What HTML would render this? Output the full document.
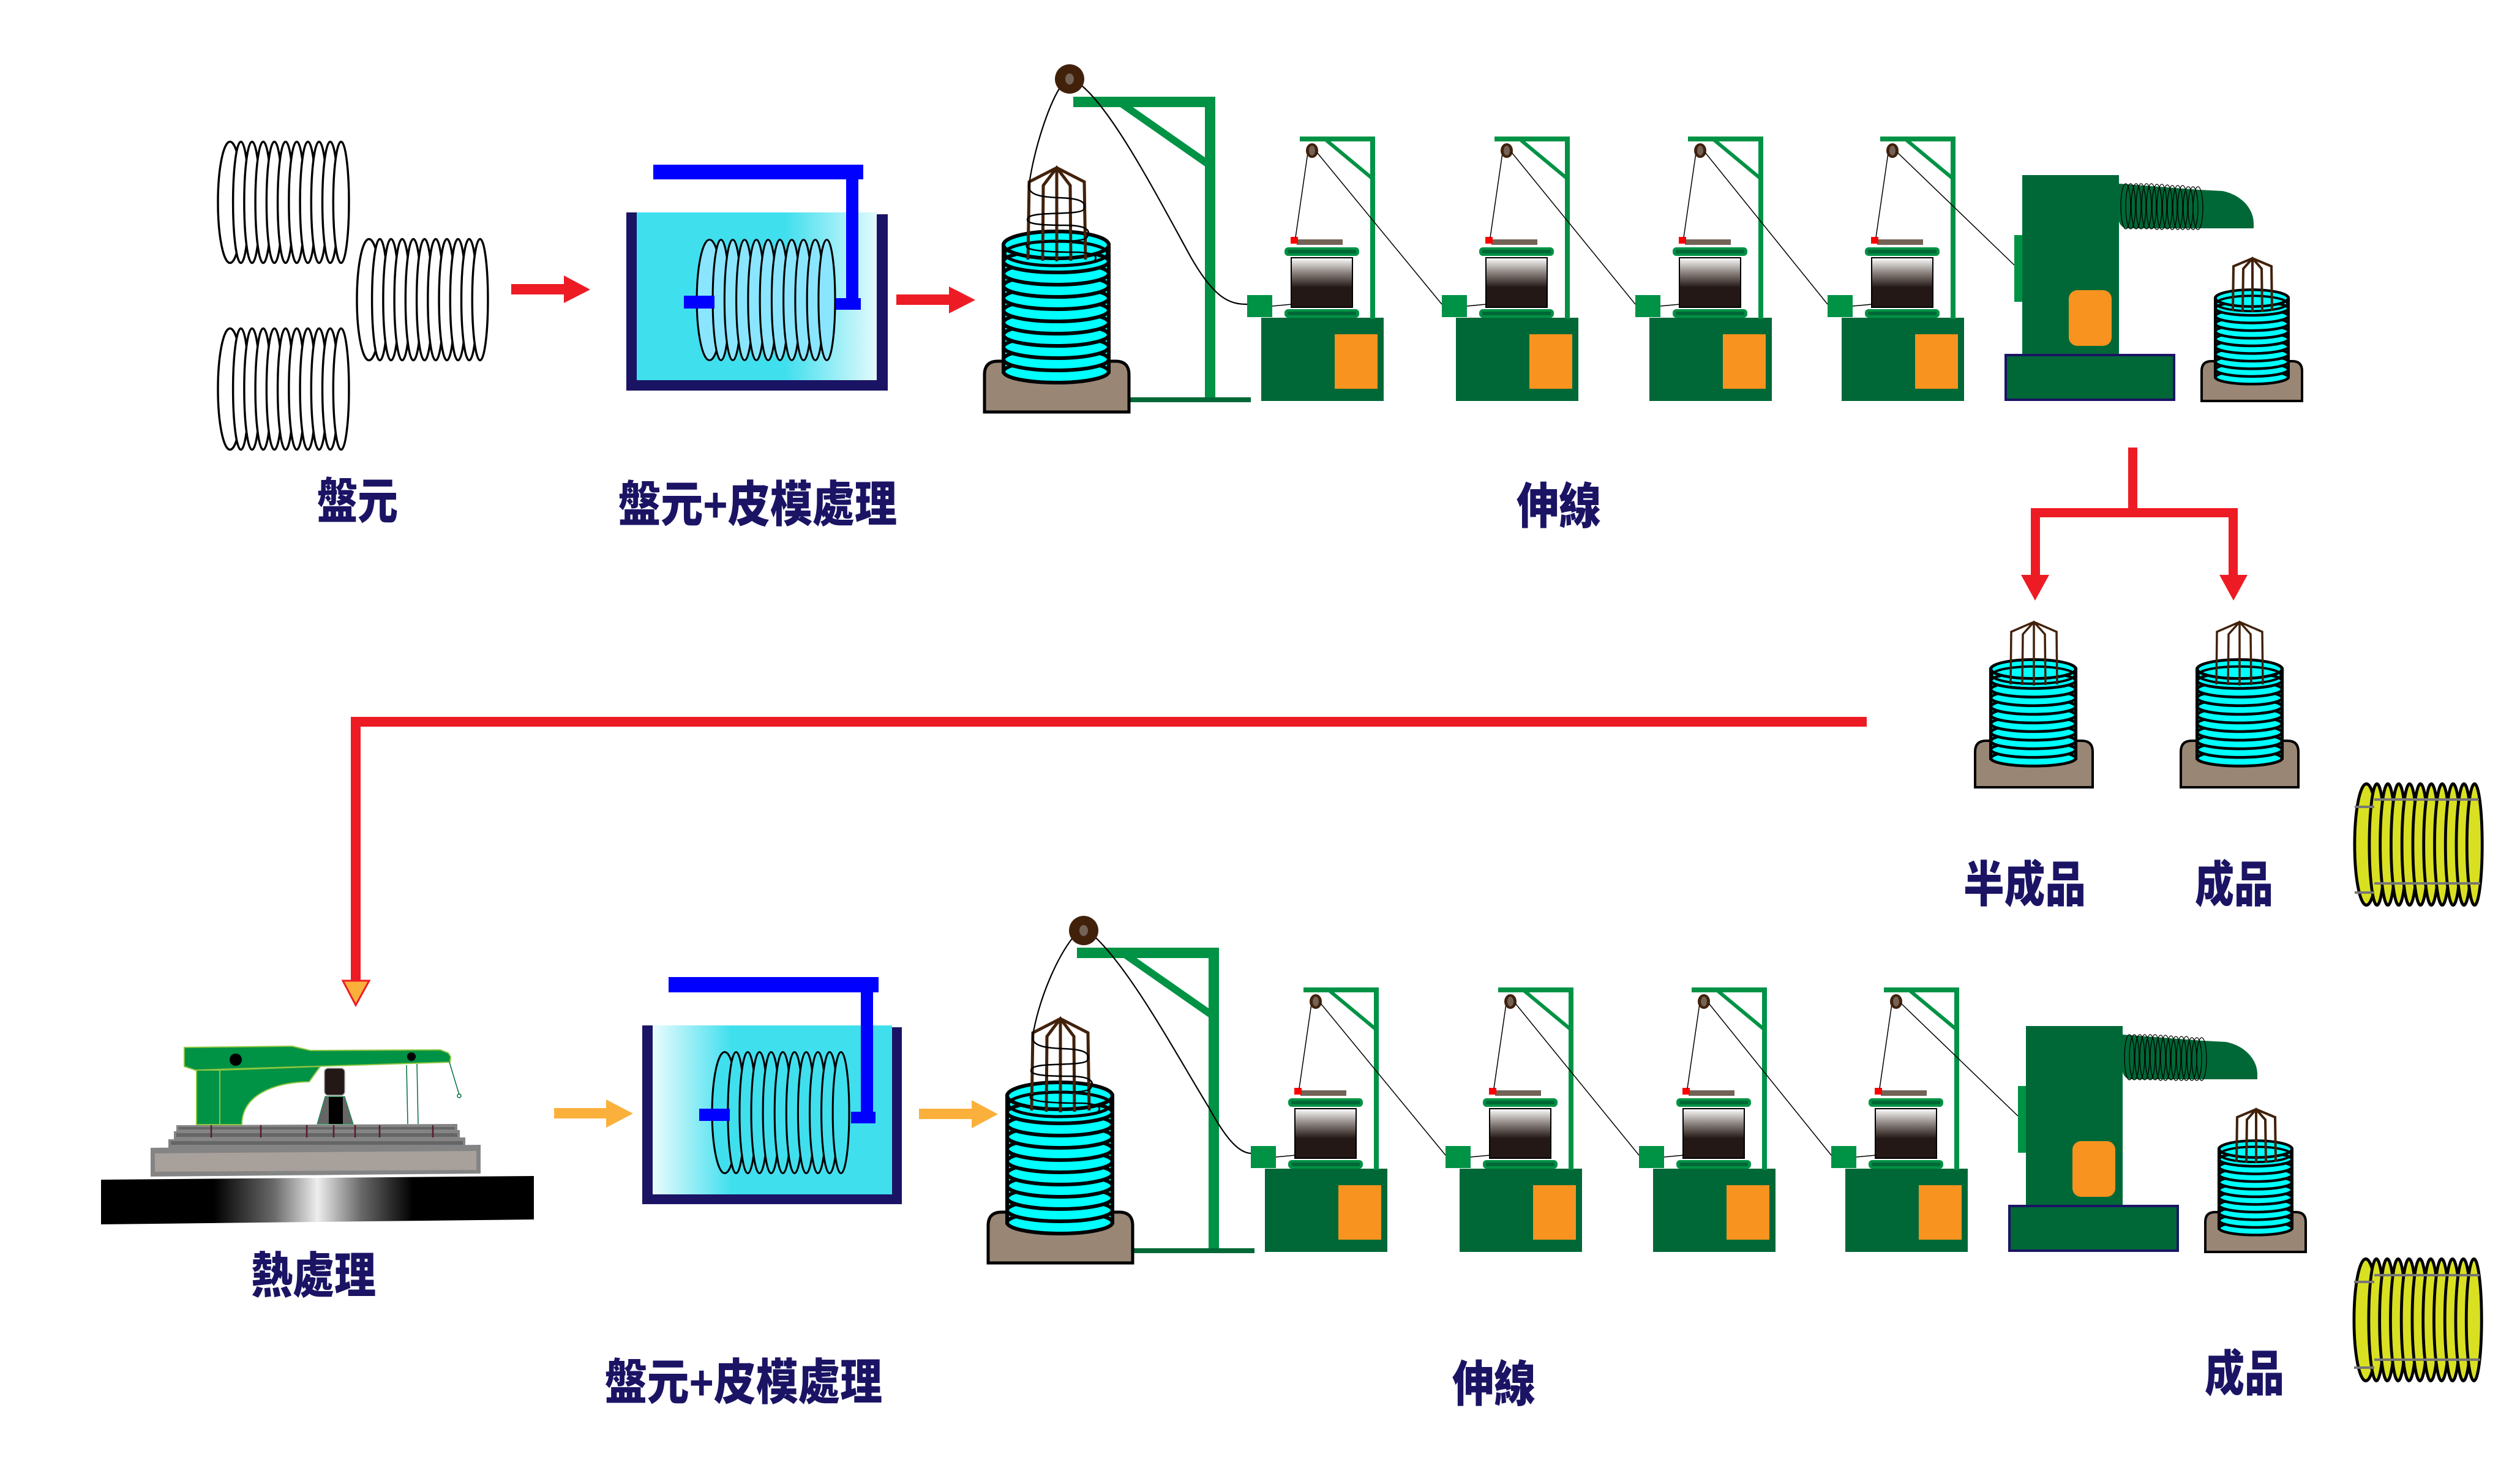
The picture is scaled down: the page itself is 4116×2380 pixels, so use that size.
<!DOCTYPE html>
<html><head><meta charset="utf-8"><style>
html,body{margin:0;padding:0;background:#fff;}
.wrap{position:relative;width:4116px;height:2380px;overflow:hidden;background:#fff;}
.wrap svg{position:absolute;left:0;top:0;display:block;}
</style></head><body>
<div class="wrap">
<svg xmlns="http://www.w3.org/2000/svg" width="4116" height="2380" viewBox="0 0 4116 2380">
<linearGradient id="drum" x1="0" y1="0" x2="0" y2="1"><stop offset="0" stop-color="#ffffff"/><stop offset="0.3" stop-color="#8c8480"/><stop offset="0.6" stop-color="#231815"/><stop offset="1" stop-color="#231815"/></linearGradient>
<linearGradient id="wu" x1="0" y1="0" x2="1" y2="0"><stop offset="0" stop-color="#40dfee"/><stop offset="0.62" stop-color="#40dfee"/><stop offset="1" stop-color="#e2fafd"/></linearGradient>
<linearGradient id="wl" x1="0" y1="0" x2="1" y2="0"><stop offset="0" stop-color="#eafcfe"/><stop offset="0.33" stop-color="#40dfee"/><stop offset="1" stop-color="#40dfee"/></linearGradient>
<linearGradient id="slab" x1="0" y1="0" x2="1" y2="0"><stop offset="0" stop-color="#000000"/><stop offset="0.26" stop-color="#000000"/><stop offset="0.4" stop-color="#6a6a6a"/><stop offset="0.5" stop-color="#eeeeee"/><stop offset="0.6" stop-color="#6a6a6a"/><stop offset="0.72" stop-color="#000000"/><stop offset="1" stop-color="#000000"/></linearGradient>

<rect x="0" y="0" width="4116" height="2380" fill="#ffffff"/>

<!-- ===== UPPER DRAWING LINE ===== -->
<g>
<rect x="1753" y="158" width="232" height="17" fill="#009245"/>
<rect x="1968" y="158" width="17" height="492" fill="#009245"/>
<line x1="1830" y1="168" x2="1976" y2="270" stroke="#009245" stroke-width="12"/>
<rect x="1844" y="649" width="199" height="8" fill="#006837"/>
<path d="M1608,673 V612 Q1608,590 1630,590 H1822 Q1844,590 1844,612 V673 Z" fill="#998675" stroke="#000" stroke-width="5"/>
<g transform="translate(1637,376)" fill="#00ffff" stroke="#000" stroke-width="6">
<rect x="2" y="24" width="172" height="207"/>
<ellipse cx="88" cy="231" rx="86" ry="18"/><ellipse cx="88" cy="211" rx="86" ry="18"/><ellipse cx="88" cy="191" rx="86" ry="18"/><ellipse cx="88" cy="171" rx="86" ry="18"/><ellipse cx="88" cy="151" rx="86" ry="18"/><ellipse cx="88" cy="131" rx="86" ry="18"/><ellipse cx="88" cy="111" rx="86" ry="18"/><ellipse cx="88" cy="91" rx="86" ry="18"/><ellipse cx="88" cy="71" rx="86" ry="18"/><ellipse cx="88" cy="51" rx="86" ry="18"/>
<ellipse cx="88" cy="24" rx="86" ry="22"/>
<ellipse cx="88" cy="38" rx="84" ry="20" fill="none" stroke-width="5"/>
</g>
<path transform="translate(1726,274)" fill="none" stroke="#42210b" stroke-width="5" d="M-47,150 L-45,23 L0,0 L45,23 L47,150 M-23,152 L-22,29 L0,0 L22,29 L23,152 M0,0 V153"/>
<path d="M1681,300 C1676,318 1700,322 1730,323 C1765,324 1775,330 1770,342 C1765,352 1690,345 1680,355 C1670,366 1700,368 1740,368 C1778,368 1782,378 1775,388 C1768,398 1690,392 1678,400 C1668,410 1720,412 1760,412 C1790,413 1795,420 1785,428" fill="none" stroke="#000" stroke-width="2.5"/>

<g transform="translate(2060,0)">
<rect x="-23" y="482" width="41" height="36" fill="#009245"/><rect x="0" y="519" width="200" height="136" fill="#006837"/><rect x="120" y="546" width="70" height="89" fill="#f7931e"/><rect x="63" y="223" width="123" height="8" fill="#009245"/><rect x="178" y="223" width="8" height="298" fill="#009245"/><line x1="105" y1="228" x2="182" y2="292" stroke="#009245" stroke-width="6"/><rect x="38" y="404" width="122" height="14" rx="6" fill="#009245"/><rect x="43" y="408" width="112" height="6" fill="#006837"/><rect x="49" y="421" width="100" height="81" fill="url(#drum)" stroke="#000" stroke-width="2"/><rect x="38" y="505" width="122" height="14" rx="6" fill="#009245"/><rect x="43" y="509" width="112" height="6" fill="#006837"/><rect x="58" y="391" width="75" height="9" fill="#736357"/><rect x="48" y="387" width="12" height="11" fill="#ff0000"/><line x1="18" y1="500" x2="50" y2="497" stroke="#000" stroke-width="1.5"/><line x1="76" y1="250" x2="56" y2="388" stroke="#000" stroke-width="1.5"/><ellipse cx="83" cy="246" rx="10" ry="12" fill="#42210b"/><ellipse cx="83" cy="246" rx="5" ry="8" fill="#736357"/>
</g>
<g transform="translate(2378,0)">
<rect x="-23" y="482" width="41" height="36" fill="#009245"/><rect x="0" y="519" width="200" height="136" fill="#006837"/><rect x="120" y="546" width="70" height="89" fill="#f7931e"/><rect x="63" y="223" width="123" height="8" fill="#009245"/><rect x="178" y="223" width="8" height="298" fill="#009245"/><line x1="105" y1="228" x2="182" y2="292" stroke="#009245" stroke-width="6"/><rect x="38" y="404" width="122" height="14" rx="6" fill="#009245"/><rect x="43" y="408" width="112" height="6" fill="#006837"/><rect x="49" y="421" width="100" height="81" fill="url(#drum)" stroke="#000" stroke-width="2"/><rect x="38" y="505" width="122" height="14" rx="6" fill="#009245"/><rect x="43" y="509" width="112" height="6" fill="#006837"/><rect x="58" y="391" width="75" height="9" fill="#736357"/><rect x="48" y="387" width="12" height="11" fill="#ff0000"/><line x1="18" y1="500" x2="50" y2="497" stroke="#000" stroke-width="1.5"/><line x1="76" y1="250" x2="56" y2="388" stroke="#000" stroke-width="1.5"/><ellipse cx="83" cy="246" rx="10" ry="12" fill="#42210b"/><ellipse cx="83" cy="246" rx="5" ry="8" fill="#736357"/>
</g>
<g transform="translate(2694,0)">
<rect x="-23" y="482" width="41" height="36" fill="#009245"/><rect x="0" y="519" width="200" height="136" fill="#006837"/><rect x="120" y="546" width="70" height="89" fill="#f7931e"/><rect x="63" y="223" width="123" height="8" fill="#009245"/><rect x="178" y="223" width="8" height="298" fill="#009245"/><line x1="105" y1="228" x2="182" y2="292" stroke="#009245" stroke-width="6"/><rect x="38" y="404" width="122" height="14" rx="6" fill="#009245"/><rect x="43" y="408" width="112" height="6" fill="#006837"/><rect x="49" y="421" width="100" height="81" fill="url(#drum)" stroke="#000" stroke-width="2"/><rect x="38" y="505" width="122" height="14" rx="6" fill="#009245"/><rect x="43" y="509" width="112" height="6" fill="#006837"/><rect x="58" y="391" width="75" height="9" fill="#736357"/><rect x="48" y="387" width="12" height="11" fill="#ff0000"/><line x1="18" y1="500" x2="50" y2="497" stroke="#000" stroke-width="1.5"/><line x1="76" y1="250" x2="56" y2="388" stroke="#000" stroke-width="1.5"/><ellipse cx="83" cy="246" rx="10" ry="12" fill="#42210b"/><ellipse cx="83" cy="246" rx="5" ry="8" fill="#736357"/>
</g>
<g transform="translate(3008,0)">
<rect x="-23" y="482" width="41" height="36" fill="#009245"/><rect x="0" y="519" width="200" height="136" fill="#006837"/><rect x="120" y="546" width="70" height="89" fill="#f7931e"/><rect x="63" y="223" width="123" height="8" fill="#009245"/><rect x="178" y="223" width="8" height="298" fill="#009245"/><line x1="105" y1="228" x2="182" y2="292" stroke="#009245" stroke-width="6"/><rect x="38" y="404" width="122" height="14" rx="6" fill="#009245"/><rect x="43" y="408" width="112" height="6" fill="#006837"/><rect x="49" y="421" width="100" height="81" fill="url(#drum)" stroke="#000" stroke-width="2"/><rect x="38" y="505" width="122" height="14" rx="6" fill="#009245"/><rect x="43" y="509" width="112" height="6" fill="#006837"/><rect x="58" y="391" width="75" height="9" fill="#736357"/><rect x="48" y="387" width="12" height="11" fill="#ff0000"/><line x1="18" y1="500" x2="50" y2="497" stroke="#000" stroke-width="1.5"/><line x1="76" y1="250" x2="56" y2="388" stroke="#000" stroke-width="1.5"/><ellipse cx="83" cy="246" rx="10" ry="12" fill="#42210b"/><ellipse cx="83" cy="246" rx="5" ry="8" fill="#736357"/>
</g>
<g stroke="#000" stroke-width="1.5">
<line x1="2151" y1="249" x2="2355" y2="497"/>
<line x1="2469" y1="249" x2="2671" y2="497"/>
<line x1="2785" y1="249" x2="2985" y2="497"/>
<line x1="3099" y1="249" x2="3290" y2="433"/>
</g>

<rect x="3290" y="384" width="15" height="109" fill="#009245"/>
<rect x="3303" y="286" width="158" height="292" fill="#006837"/>
<rect x="3379" y="474" width="70" height="91" rx="14" fill="#f7931e"/>
<path d="M3461,300 L3592,310 L3630,312 C3660,318 3681,340 3681,365 L3681,373 L3475,373 C3466,373 3461,365 3461,360 Z" fill="#006837"/>
<g fill="none" stroke="#000" stroke-width="1.3">
<ellipse cx="3472" cy="337" rx="8" ry="37"/><ellipse cx="3480" cy="337" rx="8" ry="37"/><ellipse cx="3489" cy="337" rx="8" ry="37"/><ellipse cx="3497" cy="337" rx="8" ry="37"/><ellipse cx="3506" cy="337" rx="8" ry="37"/><ellipse cx="3514" cy="337" rx="8" ry="37"/><ellipse cx="3523" cy="338" rx="8" ry="37"/><ellipse cx="3531" cy="338" rx="8" ry="37"/><ellipse cx="3540" cy="338" rx="8" ry="36"/><ellipse cx="3548" cy="339" rx="8" ry="36"/><ellipse cx="3557" cy="339" rx="8" ry="36"/><ellipse cx="3565" cy="339" rx="8" ry="36"/><ellipse cx="3574" cy="340" rx="8" ry="35"/><ellipse cx="3582" cy="340" rx="8" ry="35"/><ellipse cx="3590" cy="340" rx="8" ry="35"/>
</g>
<rect x="3276" y="580" width="275" height="73" fill="#006837" stroke="#1b1464" stroke-width="4"/>
<path d="M3596,655 V606 Q3596,590 3612,590 H3744 Q3760,590 3760,606 V655 Z" fill="#998675" stroke="#000" stroke-width="4"/>
<g transform="translate(3617,472) scale(0.693,0.624)" fill="#00ffff" stroke="#000" stroke-width="7">
<rect x="2" y="24" width="172" height="207"/>
<ellipse cx="88" cy="231" rx="86" ry="18"/><ellipse cx="88" cy="211" rx="86" ry="18"/><ellipse cx="88" cy="191" rx="86" ry="18"/><ellipse cx="88" cy="171" rx="86" ry="18"/><ellipse cx="88" cy="151" rx="86" ry="18"/><ellipse cx="88" cy="131" rx="86" ry="18"/><ellipse cx="88" cy="111" rx="86" ry="18"/><ellipse cx="88" cy="91" rx="86" ry="18"/><ellipse cx="88" cy="71" rx="86" ry="18"/><ellipse cx="88" cy="51" rx="86" ry="18"/>
<ellipse cx="88" cy="24" rx="86" ry="22"/>
<ellipse cx="88" cy="38" rx="84" ry="20" fill="none" stroke-width="6"/>
</g>
<path fill="none" stroke="#42210b" stroke-width="4" d="M3647,508 L3648,435 L3679,422 L3710,435 L3711,508 M3663,509 L3664,439 L3679,422 L3694,439 L3695,509 M3679,422 V510"/>
</g>

<!-- ===== LOWER DRAWING LINE (shifted copy) ===== -->
<g transform="translate(6,1390)">
<rect x="1753" y="158" width="232" height="17" fill="#009245"/>
<rect x="1968" y="158" width="17" height="492" fill="#009245"/>
<line x1="1830" y1="168" x2="1976" y2="270" stroke="#009245" stroke-width="12"/>
<rect x="1844" y="649" width="199" height="8" fill="#006837"/>
<path d="M1608,673 V612 Q1608,590 1630,590 H1822 Q1844,590 1844,612 V673 Z" fill="#998675" stroke="#000" stroke-width="5"/>
<g transform="translate(1637,376)" fill="#00ffff" stroke="#000" stroke-width="6">
<rect x="2" y="24" width="172" height="207"/>
<ellipse cx="88" cy="231" rx="86" ry="18"/><ellipse cx="88" cy="211" rx="86" ry="18"/><ellipse cx="88" cy="191" rx="86" ry="18"/><ellipse cx="88" cy="171" rx="86" ry="18"/><ellipse cx="88" cy="151" rx="86" ry="18"/><ellipse cx="88" cy="131" rx="86" ry="18"/><ellipse cx="88" cy="111" rx="86" ry="18"/><ellipse cx="88" cy="91" rx="86" ry="18"/><ellipse cx="88" cy="71" rx="86" ry="18"/><ellipse cx="88" cy="51" rx="86" ry="18"/>
<ellipse cx="88" cy="24" rx="86" ry="22"/>
<ellipse cx="88" cy="38" rx="84" ry="20" fill="none" stroke-width="5"/>
</g>
<path transform="translate(1726,274)" fill="none" stroke="#42210b" stroke-width="5" d="M-47,150 L-45,23 L0,0 L45,23 L47,150 M-23,152 L-22,29 L0,0 L22,29 L23,152 M0,0 V153"/>
<path d="M1681,300 C1676,318 1700,322 1730,323 C1765,324 1775,330 1770,342 C1765,352 1690,345 1680,355 C1670,366 1700,368 1740,368 C1778,368 1782,378 1775,388 C1768,398 1690,392 1678,400 C1668,410 1720,412 1760,412 C1790,413 1795,420 1785,428" fill="none" stroke="#000" stroke-width="2.5"/>

<g transform="translate(2060,0)">
<rect x="-23" y="482" width="41" height="36" fill="#009245"/><rect x="0" y="519" width="200" height="136" fill="#006837"/><rect x="120" y="546" width="70" height="89" fill="#f7931e"/><rect x="63" y="223" width="123" height="8" fill="#009245"/><rect x="178" y="223" width="8" height="298" fill="#009245"/><line x1="105" y1="228" x2="182" y2="292" stroke="#009245" stroke-width="6"/><rect x="38" y="404" width="122" height="14" rx="6" fill="#009245"/><rect x="43" y="408" width="112" height="6" fill="#006837"/><rect x="49" y="421" width="100" height="81" fill="url(#drum)" stroke="#000" stroke-width="2"/><rect x="38" y="505" width="122" height="14" rx="6" fill="#009245"/><rect x="43" y="509" width="112" height="6" fill="#006837"/><rect x="58" y="391" width="75" height="9" fill="#736357"/><rect x="48" y="387" width="12" height="11" fill="#ff0000"/><line x1="18" y1="500" x2="50" y2="497" stroke="#000" stroke-width="1.5"/><line x1="76" y1="250" x2="56" y2="388" stroke="#000" stroke-width="1.5"/><ellipse cx="83" cy="246" rx="10" ry="12" fill="#42210b"/><ellipse cx="83" cy="246" rx="5" ry="8" fill="#736357"/>
</g>
<g transform="translate(2378,0)">
<rect x="-23" y="482" width="41" height="36" fill="#009245"/><rect x="0" y="519" width="200" height="136" fill="#006837"/><rect x="120" y="546" width="70" height="89" fill="#f7931e"/><rect x="63" y="223" width="123" height="8" fill="#009245"/><rect x="178" y="223" width="8" height="298" fill="#009245"/><line x1="105" y1="228" x2="182" y2="292" stroke="#009245" stroke-width="6"/><rect x="38" y="404" width="122" height="14" rx="6" fill="#009245"/><rect x="43" y="408" width="112" height="6" fill="#006837"/><rect x="49" y="421" width="100" height="81" fill="url(#drum)" stroke="#000" stroke-width="2"/><rect x="38" y="505" width="122" height="14" rx="6" fill="#009245"/><rect x="43" y="509" width="112" height="6" fill="#006837"/><rect x="58" y="391" width="75" height="9" fill="#736357"/><rect x="48" y="387" width="12" height="11" fill="#ff0000"/><line x1="18" y1="500" x2="50" y2="497" stroke="#000" stroke-width="1.5"/><line x1="76" y1="250" x2="56" y2="388" stroke="#000" stroke-width="1.5"/><ellipse cx="83" cy="246" rx="10" ry="12" fill="#42210b"/><ellipse cx="83" cy="246" rx="5" ry="8" fill="#736357"/>
</g>
<g transform="translate(2694,0)">
<rect x="-23" y="482" width="41" height="36" fill="#009245"/><rect x="0" y="519" width="200" height="136" fill="#006837"/><rect x="120" y="546" width="70" height="89" fill="#f7931e"/><rect x="63" y="223" width="123" height="8" fill="#009245"/><rect x="178" y="223" width="8" height="298" fill="#009245"/><line x1="105" y1="228" x2="182" y2="292" stroke="#009245" stroke-width="6"/><rect x="38" y="404" width="122" height="14" rx="6" fill="#009245"/><rect x="43" y="408" width="112" height="6" fill="#006837"/><rect x="49" y="421" width="100" height="81" fill="url(#drum)" stroke="#000" stroke-width="2"/><rect x="38" y="505" width="122" height="14" rx="6" fill="#009245"/><rect x="43" y="509" width="112" height="6" fill="#006837"/><rect x="58" y="391" width="75" height="9" fill="#736357"/><rect x="48" y="387" width="12" height="11" fill="#ff0000"/><line x1="18" y1="500" x2="50" y2="497" stroke="#000" stroke-width="1.5"/><line x1="76" y1="250" x2="56" y2="388" stroke="#000" stroke-width="1.5"/><ellipse cx="83" cy="246" rx="10" ry="12" fill="#42210b"/><ellipse cx="83" cy="246" rx="5" ry="8" fill="#736357"/>
</g>
<g transform="translate(3008,0)">
<rect x="-23" y="482" width="41" height="36" fill="#009245"/><rect x="0" y="519" width="200" height="136" fill="#006837"/><rect x="120" y="546" width="70" height="89" fill="#f7931e"/><rect x="63" y="223" width="123" height="8" fill="#009245"/><rect x="178" y="223" width="8" height="298" fill="#009245"/><line x1="105" y1="228" x2="182" y2="292" stroke="#009245" stroke-width="6"/><rect x="38" y="404" width="122" height="14" rx="6" fill="#009245"/><rect x="43" y="408" width="112" height="6" fill="#006837"/><rect x="49" y="421" width="100" height="81" fill="url(#drum)" stroke="#000" stroke-width="2"/><rect x="38" y="505" width="122" height="14" rx="6" fill="#009245"/><rect x="43" y="509" width="112" height="6" fill="#006837"/><rect x="58" y="391" width="75" height="9" fill="#736357"/><rect x="48" y="387" width="12" height="11" fill="#ff0000"/><line x1="18" y1="500" x2="50" y2="497" stroke="#000" stroke-width="1.5"/><line x1="76" y1="250" x2="56" y2="388" stroke="#000" stroke-width="1.5"/><ellipse cx="83" cy="246" rx="10" ry="12" fill="#42210b"/><ellipse cx="83" cy="246" rx="5" ry="8" fill="#736357"/>
</g>
<g stroke="#000" stroke-width="1.5">
<line x1="2151" y1="249" x2="2355" y2="497"/>
<line x1="2469" y1="249" x2="2671" y2="497"/>
<line x1="2785" y1="249" x2="2985" y2="497"/>
<line x1="3099" y1="249" x2="3290" y2="433"/>
</g>

<rect x="3290" y="384" width="15" height="109" fill="#009245"/>
<rect x="3303" y="286" width="158" height="292" fill="#006837"/>
<rect x="3379" y="474" width="70" height="91" rx="14" fill="#f7931e"/>
<path d="M3461,300 L3592,310 L3630,312 C3660,318 3681,340 3681,365 L3681,373 L3475,373 C3466,373 3461,365 3461,360 Z" fill="#006837"/>
<g fill="none" stroke="#000" stroke-width="1.3">
<ellipse cx="3472" cy="337" rx="8" ry="37"/><ellipse cx="3480" cy="337" rx="8" ry="37"/><ellipse cx="3489" cy="337" rx="8" ry="37"/><ellipse cx="3497" cy="337" rx="8" ry="37"/><ellipse cx="3506" cy="337" rx="8" ry="37"/><ellipse cx="3514" cy="337" rx="8" ry="37"/><ellipse cx="3523" cy="338" rx="8" ry="37"/><ellipse cx="3531" cy="338" rx="8" ry="37"/><ellipse cx="3540" cy="338" rx="8" ry="36"/><ellipse cx="3548" cy="339" rx="8" ry="36"/><ellipse cx="3557" cy="339" rx="8" ry="36"/><ellipse cx="3565" cy="339" rx="8" ry="36"/><ellipse cx="3574" cy="340" rx="8" ry="35"/><ellipse cx="3582" cy="340" rx="8" ry="35"/><ellipse cx="3590" cy="340" rx="8" ry="35"/>
</g>
<rect x="3276" y="580" width="275" height="73" fill="#006837" stroke="#1b1464" stroke-width="4"/>
<path d="M3596,655 V606 Q3596,590 3612,590 H3744 Q3760,590 3760,606 V655 Z" fill="#998675" stroke="#000" stroke-width="4"/>
<g transform="translate(3617,472) scale(0.693,0.624)" fill="#00ffff" stroke="#000" stroke-width="7">
<rect x="2" y="24" width="172" height="207"/>
<ellipse cx="88" cy="231" rx="86" ry="18"/><ellipse cx="88" cy="211" rx="86" ry="18"/><ellipse cx="88" cy="191" rx="86" ry="18"/><ellipse cx="88" cy="171" rx="86" ry="18"/><ellipse cx="88" cy="151" rx="86" ry="18"/><ellipse cx="88" cy="131" rx="86" ry="18"/><ellipse cx="88" cy="111" rx="86" ry="18"/><ellipse cx="88" cy="91" rx="86" ry="18"/><ellipse cx="88" cy="71" rx="86" ry="18"/><ellipse cx="88" cy="51" rx="86" ry="18"/>
<ellipse cx="88" cy="24" rx="86" ry="22"/>
<ellipse cx="88" cy="38" rx="84" ry="20" fill="none" stroke-width="6"/>
</g>
<path fill="none" stroke="#42210b" stroke-width="4" d="M3647,508 L3648,435 L3679,422 L3710,435 L3711,508 M3663,509 L3664,439 L3679,422 L3694,439 L3695,509 M3679,422 V510"/>
</g>

<!-- pulleys and long wires -->
<g fill="none" stroke="#000" stroke-width="2.2">
<path d="M1681,300 C1690,240 1712,175 1730,145"/>
<path d="M1767,140 C1820,185 1890,320 1945,420 C1985,490 2010,497 2037,497"/>
<path d="M1687,1690 C1700,1620 1730,1560 1752,1532"/>
<path d="M1790,1532 C1850,1590 1920,1720 1975,1810 C2005,1865 2025,1883 2043,1884"/>
</g>
<circle cx="1747" cy="129" r="24" fill="#42210b"/>
<ellipse cx="1747" cy="129" rx="7" ry="9" fill="#736357"/>
<circle cx="1770" cy="1520" r="24" fill="#42210b"/>
<ellipse cx="1770" cy="1520" rx="7" ry="9" fill="#736357"/>

<!-- raw coils (white) -->
<g transform="translate(354,229) scale(0.986,1)" fill="#ffffff" stroke="#000" stroke-width="3.5">
<ellipse cx="22" cy="101.5" rx="20" ry="99"/><ellipse cx="40" cy="101.5" rx="13" ry="99"/><ellipse cx="58.5" cy="101.5" rx="13" ry="99"/><ellipse cx="77" cy="101.5" rx="13" ry="99"/><ellipse cx="95.5" cy="101.5" rx="13" ry="99"/><ellipse cx="114" cy="101.5" rx="13" ry="99"/><ellipse cx="132.5" cy="101.5" rx="13" ry="99"/><ellipse cx="151" cy="101.5" rx="13" ry="99"/><ellipse cx="169.5" cy="101.5" rx="13" ry="99"/><ellipse cx="188" cy="101.5" rx="13" ry="99"/><ellipse cx="206" cy="101.5" rx="13" ry="99"/>
</g>
<g transform="translate(581,388) scale(0.986,1)" fill="#ffffff" stroke="#000" stroke-width="3.5">
<ellipse cx="22" cy="101.5" rx="20" ry="99"/><ellipse cx="40" cy="101.5" rx="13" ry="99"/><ellipse cx="58.5" cy="101.5" rx="13" ry="99"/><ellipse cx="77" cy="101.5" rx="13" ry="99"/><ellipse cx="95.5" cy="101.5" rx="13" ry="99"/><ellipse cx="114" cy="101.5" rx="13" ry="99"/><ellipse cx="132.5" cy="101.5" rx="13" ry="99"/><ellipse cx="151" cy="101.5" rx="13" ry="99"/><ellipse cx="169.5" cy="101.5" rx="13" ry="99"/><ellipse cx="188" cy="101.5" rx="13" ry="99"/><ellipse cx="206" cy="101.5" rx="13" ry="99"/>
</g>
<g transform="translate(354,534) scale(0.986,1)" fill="#ffffff" stroke="#000" stroke-width="3.5">
<ellipse cx="22" cy="101.5" rx="20" ry="99"/><ellipse cx="40" cy="101.5" rx="13" ry="99"/><ellipse cx="58.5" cy="101.5" rx="13" ry="99"/><ellipse cx="77" cy="101.5" rx="13" ry="99"/><ellipse cx="95.5" cy="101.5" rx="13" ry="99"/><ellipse cx="114" cy="101.5" rx="13" ry="99"/><ellipse cx="132.5" cy="101.5" rx="13" ry="99"/><ellipse cx="151" cy="101.5" rx="13" ry="99"/><ellipse cx="169.5" cy="101.5" rx="13" ry="99"/><ellipse cx="188" cy="101.5" rx="13" ry="99"/><ellipse cx="206" cy="101.5" rx="13" ry="99"/>
</g>

<!-- upper red arrows -->
<path d="M835,464 H921 V450 L964,473 L921,495 V481 H835 Z" fill="#ed1c24"/>
<path d="M1464,481 H1550 V468 L1593,490 L1550,512 V498 H1464 Z" fill="#ed1c24"/>

<!-- upper tank -->
<rect x="1040" y="347" width="392" height="274" fill="url(#wu)"/>
<g transform="translate(1136,389) scale(1.041,0.995)" fill="#8ae6ff" stroke="#000" stroke-width="3">
<ellipse cx="22" cy="101.5" rx="20" ry="99"/><ellipse cx="40" cy="101.5" rx="13" ry="99"/><ellipse cx="58.5" cy="101.5" rx="13" ry="99"/><ellipse cx="77" cy="101.5" rx="13" ry="99"/><ellipse cx="95.5" cy="101.5" rx="13" ry="99"/><ellipse cx="114" cy="101.5" rx="13" ry="99"/><ellipse cx="132.5" cy="101.5" rx="13" ry="99"/><ellipse cx="151" cy="101.5" rx="13" ry="99"/><ellipse cx="169.5" cy="101.5" rx="13" ry="99"/><ellipse cx="188" cy="101.5" rx="13" ry="99"/><ellipse cx="206" cy="101.5" rx="13" ry="99"/>
</g>
<rect x="1117" y="483" width="50" height="21" fill="#0000ff"/>
<path d="M1023,347 H1040 V621 H1432 V350 H1450 V638 H1023 Z" fill="#1b1464"/>
<rect x="1067" y="269" width="343" height="24" fill="#0000ff"/>
<rect x="1382" y="269" width="20" height="237" fill="#0000ff"/>
<rect x="1365" y="487" width="41" height="19" fill="#0000ff"/>

<!-- lower tank -->
<rect x="1066" y="1675" width="391" height="276" fill="url(#wl)"/>
<g transform="translate(1161,1716) scale(1.032,1)" fill="#40dfee" stroke="#000" stroke-width="3">
<ellipse cx="22" cy="101.5" rx="20" ry="99"/><ellipse cx="40" cy="101.5" rx="13" ry="99"/><ellipse cx="58.5" cy="101.5" rx="13" ry="99"/><ellipse cx="77" cy="101.5" rx="13" ry="99"/><ellipse cx="95.5" cy="101.5" rx="13" ry="99"/><ellipse cx="114" cy="101.5" rx="13" ry="99"/><ellipse cx="132.5" cy="101.5" rx="13" ry="99"/><ellipse cx="151" cy="101.5" rx="13" ry="99"/><ellipse cx="169.5" cy="101.5" rx="13" ry="99"/><ellipse cx="188" cy="101.5" rx="13" ry="99"/><ellipse cx="206" cy="101.5" rx="13" ry="99"/>
</g>
<rect x="1142" y="1811" width="50" height="20" fill="#0000ff"/>
<path d="M1049,1675 H1066 V1951 H1457 V1678 H1473 V1967 H1049 Z" fill="#1b1464"/>
<rect x="1092" y="1596" width="343" height="25" fill="#0000ff"/>
<rect x="1406" y="1596" width="20" height="239" fill="#0000ff"/>
<rect x="1390" y="1816" width="40" height="19" fill="#0000ff"/>

<!-- lower orange arrows -->
<path d="M905,1810 H990 V1796 L1034,1819 L990,1842 V1827 H905 Z" fill="#fbb03b"/>
<path d="M1501,1811 H1587 V1797 L1630,1820 L1587,1843 V1828 H1501 Z" fill="#fbb03b"/>

<!-- branch arrows -->
<g fill="#ed1c24">
<rect x="3476" y="731" width="15" height="114"/>
<rect x="3317" y="830" width="338" height="15"/>
<rect x="3317" y="830" width="15" height="112"/>
<path d="M3301,939 H3347 L3324,981 Z"/>
<rect x="3640" y="830" width="15" height="112"/>
<path d="M3625,939 H3671 L3648,981 Z"/>
</g>

<!-- branch spools -->
<path d="M3226,1286 V1228 Q3226,1210 3244,1210 H3400 Q3418,1210 3418,1228 V1286 Z" fill="#998675" stroke="#000" stroke-width="4"/>
<g transform="translate(3250,1076) scale(0.807,0.704)" fill="#00ffff" stroke="#000" stroke-width="6.5">
<rect x="2" y="24" width="172" height="207"/>
<ellipse cx="88" cy="231" rx="86" ry="18"/><ellipse cx="88" cy="211" rx="86" ry="18"/><ellipse cx="88" cy="191" rx="86" ry="18"/><ellipse cx="88" cy="171" rx="86" ry="18"/><ellipse cx="88" cy="151" rx="86" ry="18"/><ellipse cx="88" cy="131" rx="86" ry="18"/><ellipse cx="88" cy="111" rx="86" ry="18"/><ellipse cx="88" cy="91" rx="86" ry="18"/><ellipse cx="88" cy="71" rx="86" ry="18"/><ellipse cx="88" cy="51" rx="86" ry="18"/>
<ellipse cx="88" cy="24" rx="86" ry="22"/>
<ellipse cx="88" cy="38" rx="84" ry="20" fill="none" stroke-width="5.5"/>
</g>
<path fill="none" stroke="#42210b" stroke-width="3.5" d="M3284,1118 L3285,1032 L3322,1016 L3359,1032 L3360,1118 M3303,1119 L3304,1036 L3322,1016 L3340,1036 L3341,1119 M3322,1016 V1120"/>
<path d="M3562,1286 V1228 Q3562,1210 3580,1210 H3736 Q3754,1210 3754,1228 V1286 Z" fill="#998675" stroke="#000" stroke-width="4"/>
<g transform="translate(3587,1076) scale(0.807,0.704)" fill="#00ffff" stroke="#000" stroke-width="6.5">
<rect x="2" y="24" width="172" height="207"/>
<ellipse cx="88" cy="231" rx="86" ry="18"/><ellipse cx="88" cy="211" rx="86" ry="18"/><ellipse cx="88" cy="191" rx="86" ry="18"/><ellipse cx="88" cy="171" rx="86" ry="18"/><ellipse cx="88" cy="151" rx="86" ry="18"/><ellipse cx="88" cy="131" rx="86" ry="18"/><ellipse cx="88" cy="111" rx="86" ry="18"/><ellipse cx="88" cy="91" rx="86" ry="18"/><ellipse cx="88" cy="71" rx="86" ry="18"/><ellipse cx="88" cy="51" rx="86" ry="18"/>
<ellipse cx="88" cy="24" rx="86" ry="22"/>
<ellipse cx="88" cy="38" rx="84" ry="20" fill="none" stroke-width="5.5"/>
</g>
<path fill="none" stroke="#42210b" stroke-width="3.5" d="M3620,1118 L3621,1032 L3658,1016 L3695,1032 L3696,1118 M3639,1119 L3640,1036 L3658,1016 L3676,1036 L3677,1119 M3658,1016 V1120"/>

<!-- yellow coils -->
<g transform="translate(3844,1278) scale(0.96,1)" fill="#d9e021" stroke="#000" stroke-width="5">
<ellipse cx="22" cy="101.5" rx="20" ry="99"/><ellipse cx="40" cy="101.5" rx="13" ry="99"/><ellipse cx="58.5" cy="101.5" rx="13" ry="99"/><ellipse cx="77" cy="101.5" rx="13" ry="99"/><ellipse cx="95.5" cy="101.5" rx="13" ry="99"/><ellipse cx="114" cy="101.5" rx="13" ry="99"/><ellipse cx="132.5" cy="101.5" rx="13" ry="99"/><ellipse cx="151" cy="101.5" rx="13" ry="99"/><ellipse cx="169.5" cy="101.5" rx="13" ry="99"/><ellipse cx="188" cy="101.5" rx="13" ry="99"/><ellipse cx="206" cy="101.5" rx="13" ry="99"/>
</g>
<g stroke="#777777" stroke-width="4">
<line x1="3878" y1="1306" x2="4049" y2="1306"/>
<line x1="3878" y1="1443" x2="4051" y2="1443"/>
<line x1="3846" y1="1318" x2="3878" y2="1318"/>
<line x1="3846" y1="1458" x2="3878" y2="1458"/>
</g>
<g transform="translate(3843,2054) scale(0.96,1.005)" fill="#d9e021" stroke="#000" stroke-width="5">
<ellipse cx="22" cy="101.5" rx="20" ry="99"/><ellipse cx="40" cy="101.5" rx="13" ry="99"/><ellipse cx="58.5" cy="101.5" rx="13" ry="99"/><ellipse cx="77" cy="101.5" rx="13" ry="99"/><ellipse cx="95.5" cy="101.5" rx="13" ry="99"/><ellipse cx="114" cy="101.5" rx="13" ry="99"/><ellipse cx="132.5" cy="101.5" rx="13" ry="99"/><ellipse cx="151" cy="101.5" rx="13" ry="99"/><ellipse cx="169.5" cy="101.5" rx="13" ry="99"/><ellipse cx="188" cy="101.5" rx="13" ry="99"/><ellipse cx="206" cy="101.5" rx="13" ry="99"/>
</g>
<g stroke="#777777" stroke-width="4">
<line x1="3878" y1="2083" x2="4050" y2="2083"/>
<line x1="3878" y1="2221" x2="4051" y2="2221"/>
<line x1="3845" y1="2094" x2="3878" y2="2094"/>
<line x1="3845" y1="2234" x2="3878" y2="2234"/>
</g>

<!-- long red connector -->
<rect x="573" y="1171" width="2476" height="16" fill="#ed1c24"/>
<rect x="573" y="1171" width="16" height="432" fill="#ed1c24"/>
<path d="M560,1602 H603 L581,1642 Z" fill="#fbb03b" stroke="#ed1c24" stroke-width="3"/>

<!-- heat treatment -->
<path d="M165,1927 L872,1921 L872,1992 L165,2000 Z" fill="url(#slab)"/>
<path d="M246,1875 L785,1870 L785,1917 L246,1922 Z" fill="#848484"/>
<path d="M253,1884 L778,1880 L778,1911 L253,1914 Z" fill="#a8a09b"/>
<path d="M275,1861 L760,1858 L760,1872 L275,1875 Z" fill="#848484"/>
<rect x="279" y="1864" width="477" height="6" fill="#666666"/>
<path d="M284,1848 L751,1846 L751,1859 L284,1861 Z" fill="#848484"/>
<rect x="288" y="1851" width="459" height="6" fill="#666666"/>
<path d="M288,1838 L747,1836 L747,1847 L288,1849 Z" fill="#848484"/>
<rect x="292" y="1841" width="451" height="4" fill="#666666"/>
<g stroke="#5a1a2a" stroke-width="2.5">
<line x1="345" y1="1838" x2="345" y2="1858"/><line x1="426" y1="1838" x2="426" y2="1858"/><line x1="501" y1="1838" x2="501" y2="1858"/><line x1="545" y1="1838" x2="545" y2="1858"/><line x1="580" y1="1838" x2="580" y2="1858"/><line x1="620" y1="1838" x2="620" y2="1858"/><line x1="707" y1="1838" x2="707" y2="1858"/>
</g>
<g fill="#009245" stroke="#8cc63f" stroke-width="2">
<path d="M301,1711 L477,1709 L507,1716 L719,1715 L732,1720 L736,1726 L735,1735 L319,1748 L301,1742 Z"/>
<rect x="321" y="1748" width="38" height="89"/>
<path d="M359,1748 L523,1742 L505,1767 C445,1768 395,1790 395,1837 L359,1837 Z"/>
</g>
<ellipse cx="385" cy="1731" rx="10" ry="10" fill="#000"/>
<ellipse cx="672" cy="1726" rx="7" ry="7" fill="#000"/>
<rect x="530" y="1745" width="33" height="44" rx="6" fill="#231815" stroke="#999999" stroke-width="1.5"/>
<path d="M518,1836 L531,1791 L563,1791 L577,1836 Z" fill="#666666" stroke="#009245" stroke-width="1"/>
<rect x="537" y="1792" width="23" height="44" fill="#000"/>
<g stroke="#00703c" stroke-width="1.5" fill="none">
<line x1="664" y1="1740" x2="666" y2="1836"/>
<line x1="681" y1="1738" x2="683" y2="1836"/>
<line x1="734" y1="1735" x2="750" y2="1788"/>
<circle cx="750" cy="1790" r="3"/>
</g>
</svg>

<svg xmlns="http://www.w3.org/2000/svg" width="4116" height="2380" viewBox="0 0 4116 2380">
<g font-family="'Liberation Sans','Noto Sans CJK TC','Noto Sans CJK SC',sans-serif" font-weight="900" font-size="80" fill="#1b1464">
<text x="518" y="847" textLength="132" lengthAdjust="spacingAndGlyphs">盤元</text>
<text x="1010" y="852" textLength="455" lengthAdjust="spacingAndGlyphs">盤元+皮模處理</text>
<text x="2477" y="855" textLength="138" lengthAdjust="spacingAndGlyphs">伸線</text>
<text x="3207" y="1473" textLength="200" lengthAdjust="spacingAndGlyphs">半成品</text>
<text x="3585" y="1473" textLength="128" lengthAdjust="spacingAndGlyphs">成品</text>
<text x="410" y="2112" textLength="204" lengthAdjust="spacingAndGlyphs">熱處理</text>
<text x="988" y="2286" textLength="453" lengthAdjust="spacingAndGlyphs">盤元+皮模處理</text>
<text x="2372" y="2289" textLength="136" lengthAdjust="spacingAndGlyphs">伸線</text>
<text x="3601" y="2272" textLength="130" lengthAdjust="spacingAndGlyphs">成品</text>
</g>
</svg>
</div>
</body></html>
